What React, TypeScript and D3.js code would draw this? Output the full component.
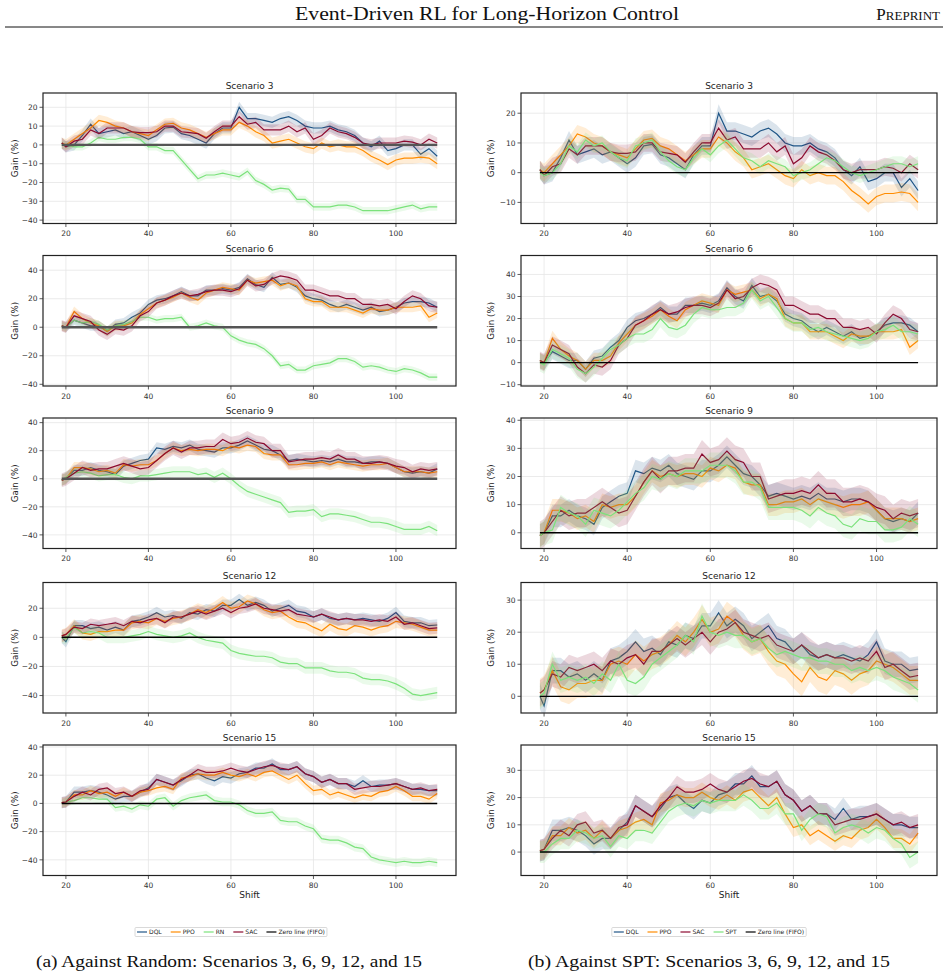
import * as d3 from 'd3'
import React from 'react'

// shift index of every sample (every second shift after the first two)
const shifts = [19, ...d3.range(20, 111, 2)]
const xTicks = [20, 40, 60, 80, 100]
const scenarioNames = ['Scenario 3', 'Scenario 6', 'Scenario 9', 'Scenario 12', 'Scenario 15']

// scenario 3
const dql3 = [1, -1, 0, 5, 11, 6, 7, 8, 6, 7, 5, 3, 5, 9, 9.5, 6, 5, 3, 1, 6, 9, 9, 20, 14, 14, 13, 12, 14, 15, 13, 10, 9, 9, 10, 8, 7, 5, 1, -1, 2, -3, -2, 0, 0, -5, -2, -6]
const ppo3 = [1, 0, 3, 6, 9, 13, 12, 10, 9, 7, 6, 5, 8, 11, 11.5, 9, 8, 6, 4, 6, 8, 8, 12, 10, 7, 5, 1, 2, 3, 1, -1, -2, 1, -1, 0, -1, -1, -3, -6, -8, -10.5, -8, -7, -7, -6.5, -7, -10]
const sac3 = [1, -1, 2, 3, 8, 6, 9, 9, 9, 7, 6.5, 6.5, 7, 10, 10, 7, 6.5, 6, 3.5, 7, 10, 10, 15, 11, 12, 8, 8, 8, 10, 7, 9, 3, 5, 9, 7, 6, 4, 1, 0, 1, 1, 1, 2, 1.5, 0, 3, 1]
const rn3 = [0, 0, -1, -1, 1, 4, 3, 3, 4, 4, 3, -1, -1, -3, -3, -8, -13, -18, -16, -16, -15, -16, -17, -14, -19, -21, -24, -23, -23.5, -29, -29, -33, -33, -33, -32, -32, -33, -35, -35, -35, -35, -34, -33, -32, -34, -33, -33]
const spt3 = [0, -1, 0, 3, 9, 7, 11, 9, 10, 7, 5, 4, 9, 10, 11, 7, 4, 2, 1, 5, 8, 6, 9, 11, 8, 5, 4, 2, 4, 3, 2, -1, 0, 1, 3, 5, 4, 2, 0, -1, 0, 1, 2, 3, 3, 2, 3]

// scenario 6
const dql6 = [1, 0, 5, 3, 1, 1, -3, 2, 3, 7, 10, 16, 19, 20, 22, 25, 22, 22, 26, 26, 27, 26, 28, 34, 30, 28, 35, 30, 31, 28, 22, 20, 19, 16, 14, 16, 14, 12, 14, 11, 12, 14, 17, 18, 18, 17, 14]
const ppo6 = [1, 0, 11, 6, 3, 1, -3, 1, 1, 3, 9, 13, 17, 19, 21, 24, 21, 19, 24, 26, 28, 27, 26, 33, 31, 32, 33, 29, 31, 29, 20, 18, 18, 14, 14, 14, 12, 10, 13, 12, 12, 14, 14, 14, 15, 7, 10]
const sac6 = [1, 0, 8, 6, 4, -2, -5, -1, -2, 1, 8, 11, 17, 19, 22, 24, 22, 23, 25, 26, 26, 25, 27, 33, 29, 30, 34, 36, 35, 33, 26, 26, 24, 22, 22, 20, 20, 16, 16, 15, 16, 13, 18, 22, 20, 15, 14]
const rn6 = [1, 0, 5, 3, 4, 2, -2, 1, 2, 4, 7, 7, 5, 6, 6, 7, 0, 1, 3, 1, 0, -6, -9, -11, -12, -15, -20, -27, -26, -30, -30, -27, -26, -25, -22, -22, -24, -28, -27, -28, -30, -31, -29, -30, -32, -35, -35]
const spt6 = [0, -1, 6, 4, 2, -3, -5, -2, 2, 6, 8, 11, 13, 13, 15, 20, 16, 15, 17, 22, 25, 24, 24, 25, 25, 27, 33, 28, 30, 25, 20, 18, 18, 15, 16, 14, 13, 12, 11, 10, 11, 14, 15, 17, 14, 14, 13]

// scenario 9
const dql9 = [-1, 0, 6, 6, 8, 6, 5, 3, 9, 11, 13, 14, 22, 21, 23, 22, 24, 21, 20, 19, 22, 22, 24, 27, 24, 21, 20, 17, 13, 14, 13, 12, 13, 12, 14, 12, 12, 11, 12, 12, 11, 8, 5, 4, 5, 4, 7]
const ppo9 = [-1, 0, 8, 8, 7, 5, 6, 4, 10, 9, 10, 10, 13, 18, 22, 20, 21, 20, 21, 21, 20, 23, 22, 24, 23, 18, 17, 17, 10, 10, 11, 11, 12, 10, 12, 11, 10, 9, 10, 10, 11, 8, 5, 5, 5, 4, 5]
const sac9 = [-1, 0, 4, 8, 6, 7, 7, 9, 11, 9, 7, 8, 13, 18, 22, 19, 22, 22, 23, 23, 28, 25, 26, 29, 26, 25, 20, 20, 12, 13, 14, 14, 15, 14, 17, 14, 14, 11, 11, 12, 11, 9, 8, 5, 7, 6, 7]
const rn9 = [-1, 1, 4, 5, 4, 2, 3, 3, 1, 0, 2, 2, 3, 4, 5, 5, 5, 3, 4, 1, 4, 0, -5, -9, -11, -13, -15, -17, -24, -23, -23, -22, -27, -25, -25, -26, -27, -29, -31, -31, -32, -34, -36, -36, -36, -34, -37]
const spt9 = [-1, 0, 1, 9, 7, 6, 3, 8, 7, 6, 8, 11, 14, 16, 20, 19, 21, 20, 22, 22, 22, 24, 24, 24, 22, 18, 18, 16, 9, 9, 9, 9, 8, 6, 9, 7, 6, 3, 2, 5, 4, 4, 1, 1, 2, 5, 3]

// scenario 12
const dql12 = [0, -3, 8, 8, 6, 7, 5, 7, 5, 11, 12, 14, 17, 14, 15, 13, 17, 16, 19, 18, 22, 22, 26, 22, 24, 22, 18, 20, 22, 18, 17, 14, 16, 13, 12, 13, 12, 13, 12, 11, 13, 17, 11, 10, 10, 8, 8.5]
const ppo12 = [1, 2, 8, 3, 2, 4, 4, 5, 5, 10, 11, 10, 13, 11, 13, 14, 16, 19, 17, 20, 24, 20, 21, 25, 23, 19, 17, 18, 14, 11, 10, 7, 4.5, 9, 6, 5, 8, 7, 5, 7, 8, 11, 10, 9, 7, 5, 5]
const sac12 = [1, 2, 7, 6, 9, 8, 9, 10, 8, 11, 10, 12, 13, 10, 14, 14, 16, 18, 16, 18, 20, 17, 20, 21, 23, 20, 19, 18, 19, 16, 15, 14, 16, 14, 12, 13, 12, 12, 11, 12, 11, 14, 9, 10, 8, 6, 6.5]
const rn12 = [0, -1, 7, 3, 4, 3, 0, 0, 0, 1, 2, 4, 2, 1, 0, 1, 3, 0, -2, -3, -4, -9, -11, -12, -13, -13, -14, -17, -18, -18, -21, -21, -21, -23, -24, -24, -25, -28, -29, -29, -30, -32, -35, -39, -40, -39, -38]
const spt12 = [0, 1, 10, 5, 6, 5, 6, 4, 7, 5, 10, 5, 4, 6, 10, 12, 14, 16, 19, 17, 25, 20, 19, 20, 19, 19, 17, 18, 15, 13, 14, 13, 12, 12, 11, 11, 10, 10, 8, 9, 8, 9, 8, 6, 5, 4, 2]

// scenario 15
const dql15 = [0.5, 1, 8, 8, 9, 8, 6, 3, 5, 5, 8, 11, 17, 15, 13, 16, 20, 21, 18, 16, 19, 18, 21, 22, 25, 25, 28, 24, 24, 26, 21, 19, 15, 17, 14, 14, 12, 16, 12, 13, 13, 14, 12, 10, 10, 9, 9]
const ppo15 = [0.5, 1, 6, 6, 9, 7, 8, 5, 8, 5, 8, 9, 11, 12, 10, 18, 19, 21, 20, 20, 22, 20, 19, 21, 19, 22, 23, 20, 17, 20, 14, 9, 10, 6, 8, 6, 4, 6, 5, 8, 9, 12, 9, 5, 5, 3, 7]
const sac15 = [0.5, 1, 5, 8, 6, 10, 11, 7, 8, 5, 9, 10, 17, 15, 13, 17, 20, 24, 22, 22, 23, 25, 23, 22, 24, 26, 27, 25, 24, 26, 21, 19, 15, 17, 14, 14, 10, 11, 12, 12, 13, 14, 12, 10, 11, 9, 10]
const rn15 = [0, 1, 2, 4, 4, 3, 3, -3, -2, -4, -1, -2, 3, 4, -2, 2, 4, 5, 6, 2, 1, 1, -1, -5, -7, -7, -6, -12, -13, -13, -16, -18, -25, -26, -26, -28, -31, -32, -38, -40, -41, -42, -41, -42, -42, -41, -42]
const spt15 = [0, 0, 3, 5, 5, 8, 7, 5, 6, 2, 6, 5, 8, 8, 7, 11, 15, 17, 18, 17, 19, 18, 19, 19, 19, 21, 19, 16, 16, 18, 14, 14, 8, 12, 14, 13, 7, 9, 10, 9, 7, 9, 8, 5, 3, -2, 0]

// half width of the shaded band per scenario: DQL, PPO, SAC, RN, SPT
const bandHalf = [
  [3, 3, 3, 2, 2.5],
  [3.5, 3.5, 4, 2.5, 4],
  [4, 4, 5, 4, 4.5],
  [4, 4.5, 4, 4, 4],
  [4, 3.5, 4, 3, 4],
]

const dqlAll = [dql3, dql6, dql9, dql12, dql15]
const ppoAll = [ppo3, ppo6, ppo9, ppo12, ppo15]
const sacAll = [sac3, sac6, sac9, sac12, sac15]
const rnAll = [rn3, rn6, rn9, rn12, rn15]
const sptAll = [spt3, spt6, spt9, spt12, spt15]

const leftDomains = [[-41.8, 27.6], [-41.2, 50.3], [-49.7, 43.3], [-52, 37.7], [-51.1, 41.4]]
const rightDomains = [[-17.1, 26.8], [-10.6, 48.6], [-5.6, 40.8], [-5.2, 35.5], [-8.6, 39.3]]
const leftTicks = [
  [-40, -30, -20, -10, 0, 10, 20],
  [-40, -20, 0, 20, 40],
  [-40, -20, 0, 20, 40],
  [-40, -20, 0, 20],
  [-40, -20, 0, 20, 40],
]
const rightTicks = [
  [-10, 0, 10, 20],
  [-10, 0, 10, 20, 30, 40],
  [0, 10, 20, 30, 40],
  [0, 10, 20, 30],
  [0, 10, 20, 30],
]

const C = {
  DQL: '#1f5586',
  PPO: '#ff8c00',
  SAC: '#8b0a2f',
  RN: '#7be27b',
  SPT: '#7be27b',
}

const leftLegend = ['DQL', 'PPO', 'RN', 'SAC', 'Zero line (FIFO)']
const rightLegend = ['DQL', 'PPO', 'SAC', 'SPT', 'Zero line (FIFO)']

const SANS = 'DejaVu Sans, sans-serif'
const SERIF = 'Liberation Serif, Times New Roman, serif'
const rowTops = [93, 255.5, 418, 582.5, 745]
const rowH = 130.5

type Line = { name: string; values: number[]; spread: number }

const fmt = (v: number) => (v < 0 ? '\u2212' + Math.abs(v) : String(v))

function Panel(props: {
  id: string
  x0: number
  x1: number
  top: number
  domain: number[]
  ticks: number[]
  lines: Line[]
  title: string
  showShift: boolean
  zeroColor: string
  zeroWidth: number
  labelX: number
}) {
  const { id, x0, x1, top, domain, ticks, lines, title, showShift, zeroColor, zeroWidth, labelX } = props
  const bottom = top + rowH
  const x = d3.scaleLinear().domain([14.45, 114.55]).range([x0, x1])
  const y = d3.scaleLinear().domain(domain).range([bottom, top])
  const line = d3
    .line<number>()
    .x((_, i) => x(shifts[i]))
    .y((d) => y(d))
  const band = (s: number) =>
    d3
      .area<number>()
      .x((_, i) => x(shifts[i]))
      .y0((d) => y(d - s))
      .y1((d) => y(d + s))

  return (
    <g>
      <defs>
        <clipPath id={id}>
          <rect x={x0} y={top} width={x1 - x0} height={rowH} />
        </clipPath>
      </defs>
      <text x={(x0 + x1) / 2} y={top - 4} textAnchor="middle" fontSize={9} fontFamily={SANS} fill="#222">
        {title}
      </text>
      {xTicks.map((t) => (
        <line key={'gx' + t} x1={x(t)} x2={x(t)} y1={top} y2={bottom} stroke="#e6e6e6" strokeWidth={0.8} />
      ))}
      {ticks.map((t) => (
        <line key={'gy' + t} x1={x0} x2={x1} y1={y(t)} y2={y(t)} stroke="#e6e6e6" strokeWidth={0.8} />
      ))}
      <g clipPath={`url(#${id})`}>
        {lines.map((l) => (
          <g key={l.name}>
            <path d={band(l.spread)(l.values) ?? ''} fill={C[l.name as keyof typeof C]} fillOpacity={0.16} />
            <path d={line(l.values) ?? ''} fill="none" stroke={C[l.name as keyof typeof C]} strokeWidth={1.2} />
          </g>
        ))}
        <line x1={x(19)} x2={x(110)} y1={y(0)} y2={y(0)} stroke={zeroColor} strokeWidth={zeroWidth} />
      </g>
      <rect x={x0} y={top} width={x1 - x0} height={rowH} fill="none" stroke="#222" strokeWidth={1.2} />
      {xTicks.map((t) => (
        <g key={'tx' + t}>
          <line x1={x(t)} x2={x(t)} y1={bottom} y2={bottom + 3.5} stroke="#333" strokeWidth={0.8} />
          <text x={x(t)} y={bottom + 12.5} textAnchor="middle" fontSize={7.5} fontFamily={SANS} fill="#333">
            {t}
          </text>
        </g>
      ))}
      {ticks.map((t) => (
        <g key={'ty' + t}>
          <line x1={x0 - 3.5} x2={x0} y1={y(t)} y2={y(t)} stroke="#333" strokeWidth={0.8} />
          <text x={x0 - 5.5} y={y(t) + 2.7} textAnchor="end" fontSize={7.5} fontFamily={SANS} fill="#333">
            {fmt(t)}
          </text>
        </g>
      ))}
      <text
        transform={`translate(${labelX},${(top + bottom) / 2}) rotate(-90)`}
        textAnchor="middle"
        dy="0.35em"
        fontSize={8.7}
        fontFamily={SANS}
        fill="#222"
      >
        Gain (%)
      </text>
      {showShift && (
        <text x={(x0 + x1) / 2} y={bottom + 22} textAnchor="middle" fontSize={9} fontFamily={SANS} fill="#222">
          Shift
        </text>
      )}
    </g>
  )
}

function Legend({ items, cx, cy }: { items: string[]; cx: number; cy: number }) {
  const fs = 6
  const ctx = typeof document !== 'undefined' ? document.createElement('canvas').getContext('2d') : null
  if (ctx) ctx.font = `${fs}px DejaVu Sans`
  const widths = items.map((s) => (ctx ? ctx.measureText(s).width : s.length * 3.4))
  const lineLen = 10
  const pad = 2
  const gap = 9
  const total = widths.reduce((a, w) => a + lineLen + pad + w, 0) + gap * (items.length - 1) + 4
  let cursor = cx - total / 2 + 2
  const colorOf = (s: string) => (s in C ? C[s as keyof typeof C] : '#000')
  return (
    <g>
      <rect x={cx - total / 2} y={cy - 4.5} width={total} height={9} rx={1} fill="#fff" stroke="#cfcfcf" strokeWidth={0.8} />
      {items.map((s, i) => {
        const start = cursor
        cursor += lineLen + pad + widths[i] + gap
        return (
          <g key={s}>
            <line x1={start} x2={start + lineLen} y1={cy} y2={cy} stroke={colorOf(s)} strokeWidth={1.2} />
            <text x={start + lineLen + pad} y={cy + 2.1} fontSize={fs} fontFamily={SANS} fill="#222">
              {s}
            </text>
          </g>
        )
      })}
    </g>
  )
}

export default function App() {
  return (
    <svg width={948} height={979} style={{ position: 'absolute', left: 0, top: 0, background: '#fff' }}>
      <rect width={948} height={979} fill="#fff" />
      <text
        x={487}
        y={20}
        textAnchor="middle"
        fontSize={19}
        fontFamily={SERIF}
        fill="#111"
        textLength={384}
        lengthAdjust="spacingAndGlyphs"
      >
        Event-Driven RL for Long-Horizon Control
      </text>
      <text x={940} y={20} textAnchor="end" fontFamily={SERIF} fill="#111">
        <tspan fontSize={17}>P</tspan>
        <tspan fontSize={13}>REPRINT</tspan>
      </text>
      <line x1={5} x2={943} y1={27} y2={27} stroke="#111" strokeWidth={1} />

      {scenarioNames.map((name, r) => (
        <g key={name}>
          <Panel
            id={'clipL' + r}
            x0={43}
            x1={456}
            top={rowTops[r]}
            domain={leftDomains[r]}
            ticks={leftTicks[r]}
            title={name}
            showShift={r === 4}
            zeroColor={r < 3 ? '#555' : '#000'}
            zeroWidth={r < 3 ? 2.4 : 1.5}
            labelX={15}
            lines={[
              { name: 'DQL', values: dqlAll[r], spread: bandHalf[r][0] },
              { name: 'PPO', values: ppoAll[r], spread: bandHalf[r][1] },
              { name: 'RN', values: rnAll[r], spread: bandHalf[r][3] },
              { name: 'SAC', values: sacAll[r], spread: bandHalf[r][2] },
            ]}
          />
          <Panel
            id={'clipR' + r}
            x0={521}
            x1={937}
            top={rowTops[r]}
            domain={rightDomains[r]}
            ticks={rightTicks[r]}
            title={name}
            showShift={r === 4}
            zeroColor="#000"
            zeroWidth={1.4}
            labelX={491}
            lines={[
              { name: 'DQL', values: dqlAll[r], spread: bandHalf[r][0] },
              { name: 'PPO', values: ppoAll[r], spread: bandHalf[r][1] },
              { name: 'SAC', values: sacAll[r], spread: bandHalf[r][2] },
              { name: 'SPT', values: sptAll[r], spread: bandHalf[r][4] },
            ]}
          />
        </g>
      ))}

      <Legend items={leftLegend} cx={231} cy={932} />
      <Legend items={rightLegend} cx={709} cy={932} />

      <text
        x={229}
        y={967}
        textAnchor="middle"
        fontSize={17}
        fontFamily={SERIF}
        fill="#111"
        textLength={386}
        lengthAdjust="spacingAndGlyphs"
      >
        (a) Against Random: Scenarios 3, 6, 9, 12, and 15
      </text>
      <text
        x={709}
        y={967}
        textAnchor="middle"
        fontSize={17}
        fontFamily={SERIF}
        fill="#111"
        textLength={362}
        lengthAdjust="spacingAndGlyphs"
      >
        (b) Against SPT: Scenarios 3, 6, 9, 12, and 15
      </text>
    </svg>
  )
}
